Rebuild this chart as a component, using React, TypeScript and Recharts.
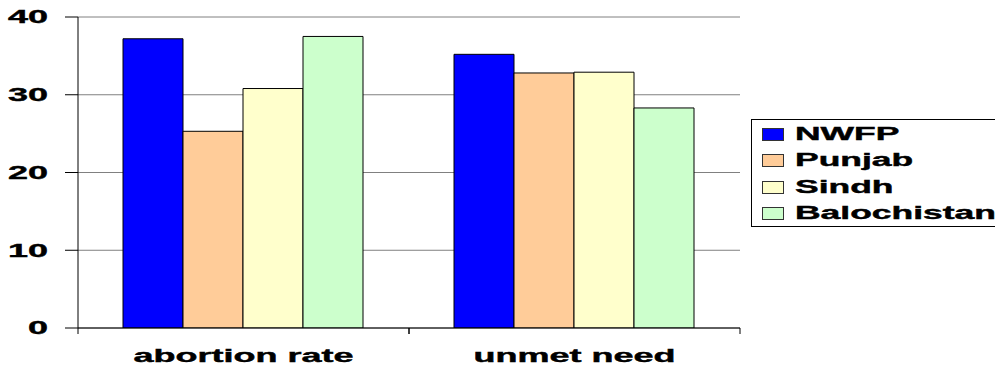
import { BarChart, Bar, XAxis, YAxis, CartesianGrid } from 'recharts';

const categories = ['abortion rate', 'unmet need'];
const nwfp = [37.2, 35.2];
const punjab = [25.3, 32.8];
const sindh = [30.8, 32.9];
const balochistan = [37.5, 28.3];
const yTicks = [0, 10, 20, 30, 40];

const series = [
  { key: 'NWFP', values: nwfp, color: '#0000FF' },
  { key: 'Punjab', values: punjab, color: '#FFCC99' },
  { key: 'Sindh', values: sindh, color: '#FFFFCC' },
  { key: 'Balochistan', values: balochistan, color: '#CCFFCC' },
];

const data = categories.map((name, i) => {
  const row: { [key: string]: string | number } = { name };
  series.forEach((s) => {
    row[s.key] = s.values[i];
  });
  return row;
});

const W = 995;
const H = 367;
const xAxisHeight = 30;
const margin = { top: 17, right: 255, bottom: 9, left: 0 };
const axisWidth = 78;
const plotBottom = H - margin.bottom - xAxisHeight;
const bandWidth = (W - margin.right - axisWidth) / categories.length;

const font = '"Liberation Sans", Arial, sans-serif';

// text in this chart is drawn wide, so stretch it horizontally
const YTick = (props: any) => {
  const { y, payload } = props;
  return (
    <text
      transform={`translate(48, ${y}) scale(2, 1)`}
      textAnchor="end"
      dy="0.36em"
      fontFamily={font}
      fontWeight="bold"
      fontSize={18}
      fill="#000"
      stroke="#000"
      strokeWidth={0.4}
    >
      {payload.value}
    </text>
  );
};

const XTick = (props: any) => {
  const { x, payload } = props;
  return (
    <g>
      <line x1={x - bandWidth / 2} x2={x - bandWidth / 2} y1={plotBottom} y2={plotBottom + 6} stroke="#000" />
      <line x1={x + bandWidth / 2} x2={x + bandWidth / 2} y1={plotBottom} y2={plotBottom + 6} stroke="#000" />
      <text
        transform={`translate(${x}, ${plotBottom + 34}) scale(2, 1)`}
        textAnchor="middle"
        fontFamily={font}
        fontWeight="bold"
        fontSize={18}
        fill="#000"
        stroke="#000"
        strokeWidth={0.4}
      >
        {payload.value}
      </text>
    </g>
  );
};

// legend box sits to the right of the plot and runs off the edge
const LegendBox = () => (
  <div
    style={{
      position: 'absolute',
      left: 751,
      top: 119,
      border: '1px solid #000',
      background: '#fff',
      width: 260,
      height: 108,
      boxSizing: 'border-box',
      paddingTop: 1,
      paddingLeft: 10,
    }}
  >
    {series.map((s) => (
      <div key={s.key} style={{ height: 26.5, display: 'flex', alignItems: 'center' }}>
        <span
          style={{
            display: 'inline-block',
            width: 22,
            height: 13,
            background: s.color,
            border: '1px solid #333',
            boxSizing: 'border-box',
            marginRight: 11,
          }}
        />
        <span
          style={{
            display: 'inline-block',
            fontFamily: font,
            fontWeight: 'bold',
            fontSize: 18,
            color: '#000',
            WebkitTextStroke: '0.4px #000',
            transform: 'scaleX(1.97)',
            transformOrigin: 'left center',
            whiteSpace: 'nowrap',
          }}
        >
          {s.key}
        </span>
      </div>
    ))}
  </div>
);

export default function App() {
  return (
    <div style={{ position: 'absolute', left: 0, top: 0, width: W, height: H, overflow: 'hidden', background: '#fff' }}>
      <BarChart width={W} height={H} data={data} margin={margin} barGap={0} barCategoryGap={45}>
        <CartesianGrid vertical={false} stroke="#808080" />
        <XAxis
          dataKey="name"
          height={xAxisHeight}
          axisLine={{ stroke: '#000' }}
          tickLine={false}
          tick={<XTick />}
          interval={0}
        />
        <YAxis
          domain={[0, 40]}
          ticks={yTicks}
          width={axisWidth}
          tickSize={13}
          axisLine={{ stroke: '#000' }}
          tickLine={{ stroke: '#000' }}
          tick={<YTick />}
          allowDataOverflow
        />
        {series.map((s) => (
          <Bar
            key={s.key}
            dataKey={s.key}
            fill={s.color}
            stroke="#000"
            strokeWidth={1}
            isAnimationActive={false}
          />
        ))}
      </BarChart>
      <LegendBox />
    </div>
  );
}
